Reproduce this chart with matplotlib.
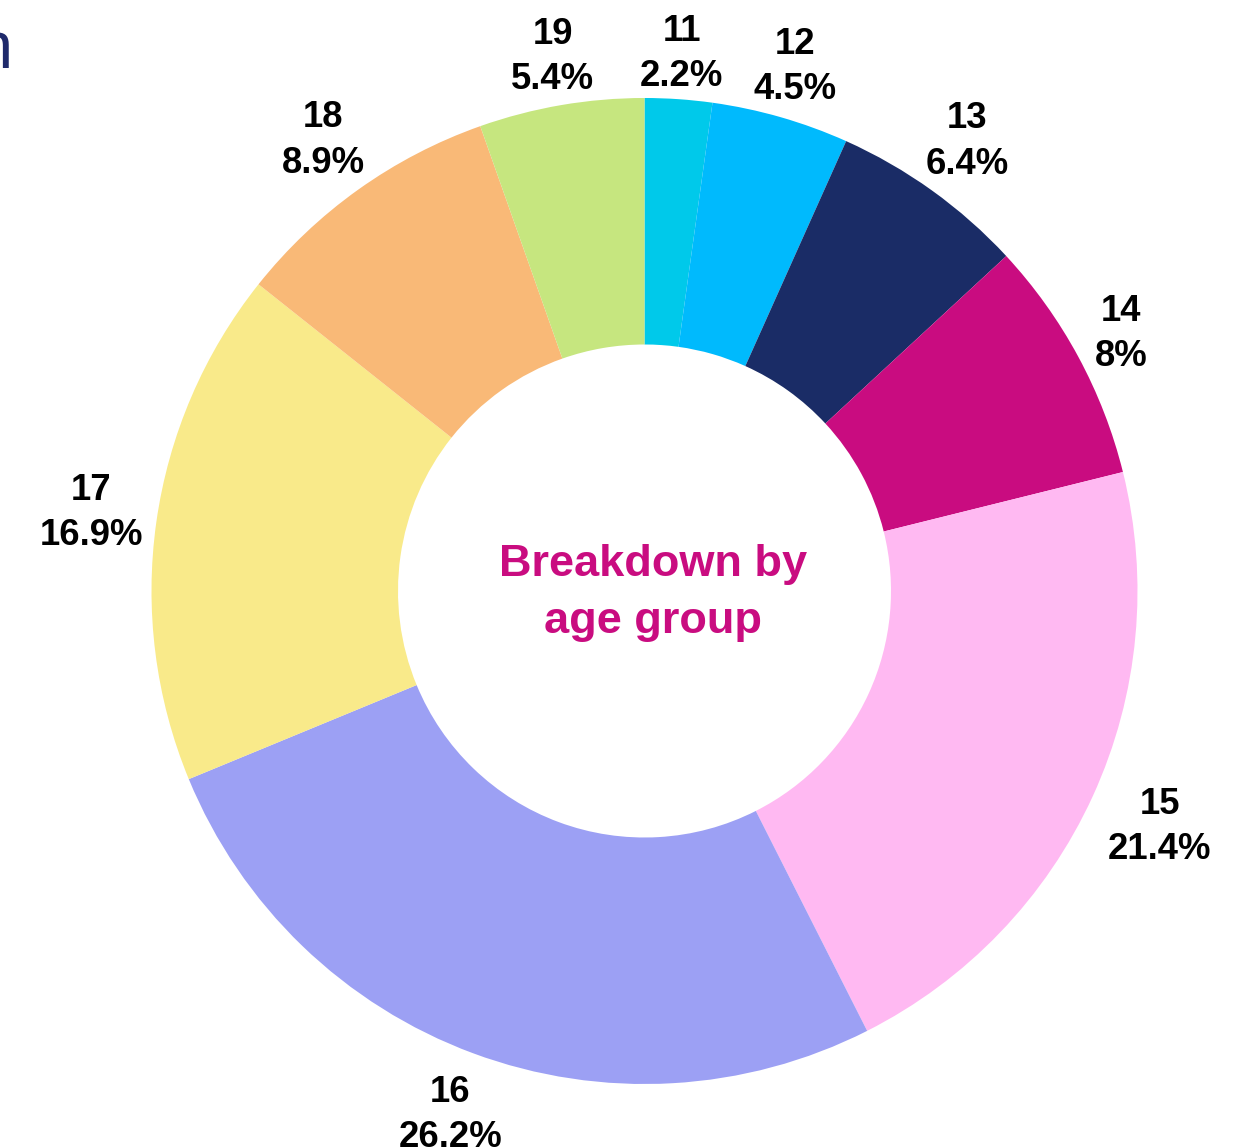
import matplotlib
matplotlib.use("Agg")
import matplotlib.pyplot as plt
import numpy as np

plt.rcParams['font.family'] = ['Liberation Sans', 'DejaVu Sans']

ages = ["11", "12", "13", "14", "15", "16", "17", "18", "19"]
shares = [2.2, 4.5, 6.4, 8, 21.4, 26.2, 16.9, 8.9, 5.4]
share_labels = ["2.2%", "4.5%", "6.4%", "8%", "21.4%", "26.2%", "16.9%", "8.9%", "5.4%"]
colors = ["#00C9EA", "#00BAFD", "#1A2C66", "#C90C80", "#FFB9F2",
          "#9CA0F4", "#F9EA8A", "#F9B977", "#C6E67F"]
center_title = "Breakdown by\nage group"

W, H = 1250, 1148
fig = plt.figure(figsize=(W / 100, H / 100), dpi=100)
cx, cy, R = 644.5, 591, 493
ax = fig.add_axes([(cx - R) / W, (H - cy - R) / H, 2 * R / W, 2 * R / H])

wedges, _ = ax.pie(shares, colors=colors, startangle=90, counterclock=False,
                   radius=1.0, wedgeprops=dict(width=0.5, linewidth=0))
ax.set_xlim(-1, 1)
ax.set_ylim(-1, 1)
ax.set_aspect('equal')
ax.axis('off')

fig.canvas.draw()
renderer = fig.canvas.get_renderer()
gap = 10.0  # px between ring and label box
for w, age, lab in zip(wedges, ages, share_labels):
    ang = np.deg2rad((w.theta1 + w.theta2) / 2)
    t = ax.text(0, 0, f"{age}\n{lab}", ha='center', va='center', fontsize=26.3,
                fontweight='bold', color='black', linespacing=1.38, clip_on=False)
    bb = t.get_window_extent(renderer)
    s = np.sin(ang)
    half_h = bb.height / 2 - (8.0 if s > 0 else 0.0)
    ext = abs(np.cos(ang)) * bb.width / 2 + abs(s) * half_h
    r = (R + gap + ext) / R
    t.set_position((r * np.cos(ang), r * s))

ax.text(0.017, -0.005, center_title, ha='center', va='center', fontsize=32.5,
        fontweight='bold', color='#C90C80', linespacing=1.5)

fig.text(-24 / W, 1 - 68 / H, "n", ha='left', va='baseline', fontsize=48,
         color='#1F2A6B')

fig.savefig("out.png", dpi=100)
